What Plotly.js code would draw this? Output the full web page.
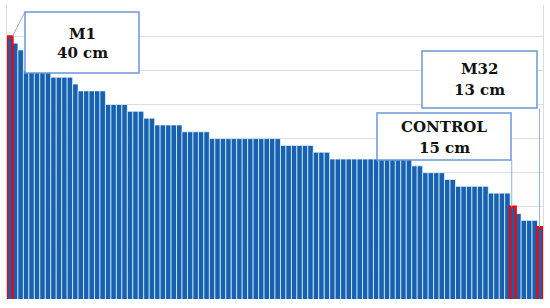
<!DOCTYPE html>
<html><head><meta charset="utf-8">
<script src="https://cdn.plot.ly/plotly-3.0.1.min.js"></script>
<style>html,body{margin:0;padding:0;background:#fff}#chart{width:550px;height:308px}</style>
</head><body><div id="chart"></div>
<script>
// Plant height (cm) of each line, sorted descending (98 bars)
const heights = [
  40, 39, 38,
  35, 35, 35, 35, 35,
  34, 34, 34, 34,
  33,
  32, 32, 32, 32, 32,
  30, 30, 30, 30,
  29, 29, 29,
  28, 28,
  27, 27, 27, 27, 27,
  26, 26, 26, 26, 26,
  25, 25, 25, 25, 25, 25, 25, 25, 25, 25, 25, 25, 25,
  24, 24, 24, 24, 24, 24,
  23, 23, 23,
  22, 22, 22, 22, 22, 22, 22, 22, 22, 22, 22, 22, 22, 22, 22,
  21, 21,
  20, 20, 20, 20,
  19, 19,
  18, 18, 18, 18, 18, 18,
  17, 17, 17, 17,
  15,
  14,
  13, 13, 13,
  12
];
// Highlighted lines and their callout labels
const calloutNames = ["M1", "CONTROL", "M32"];
const calloutIndex = [0, 92, 97];
const calloutCm = [40, 15, 13];

const W = 550, H = 308;
const M = {l: 7, r: 7, t: 5, b: 9};
const PW = W - M.l - M.r, PH = H - M.t - M.b;
const YR = [1.47, 44.6];
const px2pX = px => (px - M.l) / PW;
const px2pY = py => (H - M.b - py) / PH;

const xs = heights.map((_, i) => i);
const hiY = heights.map((v, i) => calloutIndex.includes(i) ? v : null);

const BLUE = '#1462b1';
const traces = [
  {type: 'bar', x: xs, y: heights, marker: {color: BLUE, line: {color: 'rgba(255,255,255,0.65)', width: 1}}, hoverinfo: 'skip'},
  {type: 'bar', x: xs, y: hiY, marker: {color: BLUE, line: {color: '#ff0000', width: 2.4}}, hoverinfo: 'skip'}
];

// callout boxes in pixel positions (layout)
const boxes = [
  {x0: 25, y0: 12, x1: 139, y1: 73, l1: 34, l2: 53},
  {x0: 377, y0: 113, x1: 511, y1: 160, l1: 127.5, l2: 147.5},
  {x0: 422, y0: 51, x1: 537, y1: 108, l1: 69.5, l2: 90}
];
// leader lines: offset of anchor (in category units) and pixel end relative to anchor
const leaders = [
  {dx: 0.5, ex: 12.5, ey: 24.4},
  {dx: 0, ex: -1.2, ey: 46.8, vx: -1.2},
  {dx: 0, ex: -0.8, ey: 118.9, vx: -0.8}
];

const shapes = [], annotations = [];
const LEAD = '#8fb2e3', BOX = '#6b98da';
const FONT = {family: 'DejaVu Serif', size: 15, color: '#111'};
calloutIndex.forEach((idx, k) => {
  const L = leaders[k];
  shapes.push({type: 'line', xref: 'x', yref: 'y', xsizemode: 'pixel', ysizemode: 'pixel',
    xanchor: idx + L.dx, yanchor: heights[idx],
    x0: L.vx !== undefined ? L.vx : 0, y0: 0, x1: L.ex, y1: L.ey,
    line: {color: LEAD, width: 1}});
  const b = boxes[k];
  shapes.push({type: 'rect', xref: 'paper', yref: 'paper',
    x0: px2pX(b.x0), x1: px2pX(b.x1), y0: px2pY(b.y1), y1: px2pY(b.y0),
    fillcolor: '#ffffff', line: {color: BOX, width: 1.5}});
  const cx = px2pX((b.x0 + b.x1) / 2);
  annotations.push({xref: 'paper', yref: 'paper', x: cx, y: px2pY(b.l1), xanchor: 'center', yanchor: 'middle',
    text: '<b>' + calloutNames[k] + '</b>', showarrow: false, font: FONT});
  annotations.push({xref: 'paper', yref: 'paper', x: cx, y: px2pY(b.l2), xanchor: 'center', yanchor: 'middle',
    text: '<b>' + calloutCm[k] + ' cm</b>', showarrow: false, font: FONT});
});

const layout = {
  width: W, height: H, margin: M,
  paper_bgcolor: '#fff', plot_bgcolor: '#fff',
  barmode: 'overlay', bargap: 0, showlegend: false,
  xaxis: {range: [-0.5, heights.length - 0.5], showticklabels: false, showgrid: false, zeroline: false, ticks: '', fixedrange: true},
  yaxis: {range: YR, tick0: 0, dtick: 5, showticklabels: false, gridcolor: '#dedede', gridwidth: 1, zeroline: false,
    showline: true, mirror: true, linecolor: '#dcdcdc', linewidth: 1, ticks: '', fixedrange: true},
  shapes: shapes, annotations: annotations
};
Plotly.newPlot('chart', traces, layout, {displayModeBar: false, staticPlot: true});
</script></body></html>
